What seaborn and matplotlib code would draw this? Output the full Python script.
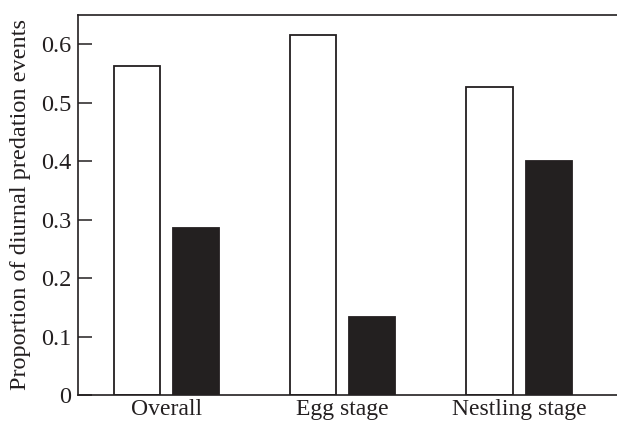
import pandas as pd
import seaborn as sns
import matplotlib.pyplot as plt
from matplotlib.ticker import FuncFormatter

# values
stages = ['Overall', 'Egg stage', 'Nestling stage']
open_bars = [0.5625, 0.615, 0.526]
filled_bars = [0.286, 0.133, 0.400]
series = ['Open', 'Filled']

ink = '#231f20'


def get_data():
    rows = []
    for i, s in enumerate(stages):
        rows.append([s, series[0], open_bars[i]])
        rows.append([s, series[1], filled_bars[i]])
    return pd.DataFrame(rows, columns=['Stage', 'Series', 'Proportion'])


def graph(df):
    sns.set_style('ticks')
    plt.rcParams['font.family'] = ['Liberation Serif', 'DejaVu Serif']

    fig = plt.figure(figsize=(6.17, 4.22), dpi=100)
    ax = fig.add_axes([78 / 617, 27 / 422, 1 - 78 / 617, (395 - 15) / 422])

    sns.barplot(ax=ax, data=df, x='Stage', y='Proportion', hue='Series',
                palette=['white', ink], edgecolor=ink, linewidth=1.3,
                width=0.67, gap=0.22, legend=False)

    ax.set_xlim(-0.5, 2.555)
    ax.set_ylim(0, 0.65)
    ax.set_yticks([0, 0.1, 0.2, 0.3, 0.4, 0.5, 0.6])
    ax.yaxis.set_major_formatter(FuncFormatter(lambda v, p: '0' if v == 0 else '%.1f' % v))

    ax.tick_params(axis='y', direction='in', length=10, width=1.1, color=ink,
                   labelsize=17.5, labelcolor=ink, pad=5)
    ax.tick_params(axis='x', length=0, labelsize=17, labelcolor=ink, pad=3)

    for side in ['left', 'bottom', 'top']:
        ax.spines[side].set_color(ink)
        ax.spines[side].set_linewidth(1.2)
    ax.spines['right'].set_visible(False)

    ax.set_xlabel('')
    ax.set_ylabel('Proportion of diurnal predation events', fontsize=17.5, color=ink)
    ax.yaxis.set_label_coords(-0.088, 0.5)

    fig.savefig('out.png', dpi=100)


def main():
    df = get_data()
    graph(df)


main()
